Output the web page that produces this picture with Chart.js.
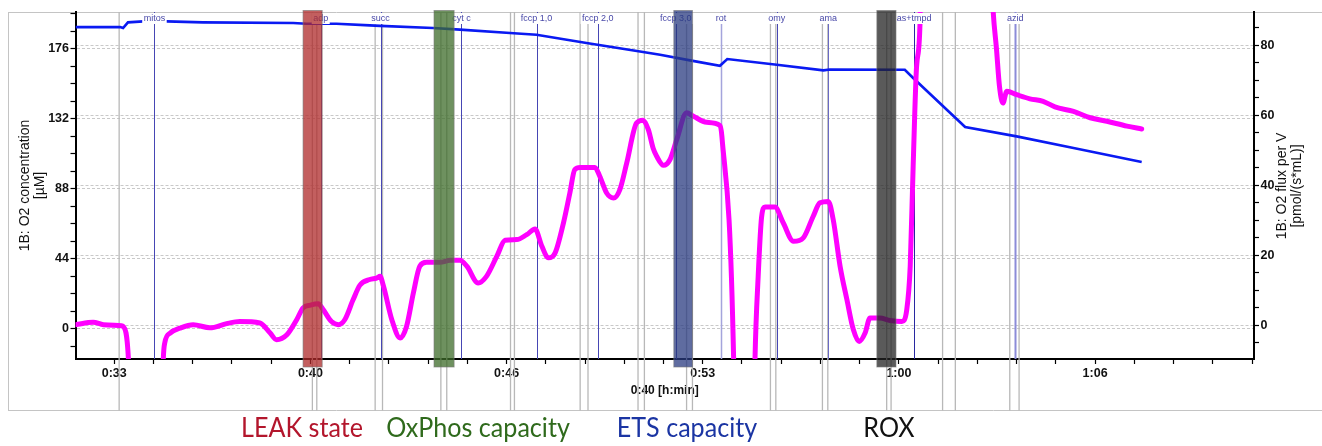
<!DOCTYPE html>
<html>
<head>
<meta charset="utf-8">
<script src="https://cdn.jsdelivr.net/npm/chart.js@4.4.1/dist/chart.umd.min.js"></script>
<style>
  html, body { margin: 0; padding: 0; background: #fff; }
  #wrap { position: relative; width: 1322px; height: 446px; overflow: hidden; }
  #chart { position: absolute; left: 0; top: 0; }
  .state { position: absolute; top: 413px; font-family: Lato, 'Noto Sans', sans-serif; font-size: 27px; line-height: 1; white-space: nowrap; transform: translateX(-50%) scaleX(0.93); }
</style>
</head>
<body>
<div id="wrap">
  <canvas id="chart" width="1322" height="446"></canvas>
</div>
<script>
/* O2k trace: O2 concentration (left) and O2 flux per V (right) */

// time axis, seconds
const xTickValue = [2000, 2400, 2800, 3200, 3600, 4000];
const xTickLabel = ['0:33', '0:40', '0:46', '0:53', '1:00', '1:06'];
const o2TickLabel = [0, 44, 88, 132, 176];
const fluxTickLabel = [0, 20, 40, 60, 80];

// O2 flux per V [pmol/(s*mL)]
const fluxTime = [1921, 1957, 1978, 2015, 2018, 2029, 2035, 2095, 2100, 2103, 2114, 2134, 2161, 2195, 2229, 2256, 2297, 2318, 2331, 2352,
  2372, 2385, 2400, 2416, 2426, 2443, 2457, 2470, 2487, 2501, 2521, 2535, 2542, 2549, 2566, 2583, 2596, 2610, 2623, 2637,
  2664, 2685, 2705, 2719, 2742, 2759, 2780, 2797, 2821, 2841, 2858, 2872, 2885, 2899, 2916, 2929, 2939, 2950, 2980, 2990,
  3004, 3018, 3031, 3045, 3065, 3078, 3089, 3099, 3106, 3120, 3133, 3147, 3167, 3181, 3208, 3235, 3239, 3263, 3266, 3303,
  3306.5, 3313, 3320, 3327, 3347, 3364, 3385, 3405, 3425, 3439, 3456, 3466, 3480, 3494, 3507, 3519, 3531, 3541, 3561, 3582,
  3606, 3616, 3623, 3629, 3636, 3643, 3646, 3782, 3792, 3799, 3805, 3812, 3820, 3840, 3867, 3894, 3918, 3956, 3990, 4024,
  4065, 4095];
const fluxValue = [0.2, 0.9, 0.2, -0.1, -0.3, -9.8, -40, -40, -9.8, -5, -2.2, -0.8, 0.2, -0.7, 0.5, 1.1, 0.7, -2.2, -4.1, -2.7,
  1.6, 5.0, 5.8, 6.2, 4.5, 1.1, 0.2, 1.6, 7.3, 11.5, 13.1, 13.5, 14.0, 11.2, 1.6, -3.6, -0.3, 9.3, 16.9, 18.0,
  18.0, 18.6, 18.6, 16.9, 12.1, 14.0, 19.7, 24.3, 24.5, 25.9, 27.5, 22.6, 19.3, 20.7, 29.3, 37.8, 44.5, 45.1, 45.1, 42.6,
  37.8, 36.4, 38.8, 46.4, 57.8, 58.6, 55.9, 50.5, 48.3, 45.7, 47.3, 53.1, 60.7, 59.7, 58.0, 57.1, 54, -9.8, -40, -40,
  -9.8, 14, 31, 33.8, 33.8, 29.3, 24.0, 25.0, 31.1, 35.0, 35.4, 30.2, 16.9, 7.3, -1.2, -4.6, -2.2, 2.1, 2.1, 1.4,
  1.1, 4.5, 16.9, 45.4, 74, 86.4, 120, 120, 90, 78.8, 68.3, 63.5, 66.9, 65.9, 64.7, 64.0, 62.4, 61.1, 59.3, 58.3,
  56.9, 56.1];

// O2 concentration [µM]
const o2Time = [1921, 2012, 2018, 2028, 2059, 2107, 2181, 2365, 2392, 2453, 2521, 2542, 2650, 2705, 2807, 2861,
  2963, 3072, 3113, 3174, 3235, 3250, 3351, 3446, 3459, 3612, 3629, 3735, 3840, 3956, 4095];
const o2Value = [189.6, 189.6, 189.0, 192.6, 193.2, 193.2, 192.6, 192.2, 191.7, 191.7, 190.7, 190.4, 189.0, 188.0, 185.9, 184.8,
  179.6, 174.3, 172.2, 168.7, 165.3, 169.5, 165.9, 162.4, 162.9, 162.8, 157.6, 126.8, 120.9, 113.6, 104.8];

// titration events
const eventTime = [2082, 2421, 2543, 2708, 2861, 2986, 3145, 3237, 3351, 3456, 3631, 3837];
const eventLabel = ['mitos', 'adp', 'succ', 'cyt c', 'fccp 1,0', 'fccp 2,0', 'fccp 3,0', 'rot', 'omy', 'ama', 'as+tmpd', 'azid'];
// grey marks
const markTime = [2010, 2404, 2413, 2532, 2547, 2666, 2678, 2808, 2816, 2950, 2966, 3068, 3081, 3167, 3179,
  3338, 3349, 3444, 3455, 3575, 3584, 3689, 3715, 3826, 3845];
// marked states
const bandStart = [2385, 2652, 3141, 3555];
const bandEnd = [2424, 2693, 3179, 3594];
const bandLabel = ['LEAK state', 'OxPhos capacity', 'ETS capacity', 'ROX'];

// styles
const bandFill = ['rgba(175,41,41,0.75)', 'rgba(61,108,41,0.75)', 'rgba(41,59,128,0.75)', 'rgba(35,35,35,0.75)'];
const bandText = ['#b3162c', '#2f6a1c', '#1b35a3', '#111'];
const bandTextX = [302, 478, 687, 889];
const eventColor = ['#4646b4', '#4646b4', '#4646b4', '#4646b4', '#4646b4', '#4646b4', '#3a3a9a', '#a4a4dc', '#4646b4', '#6a6ac4', '#2828a0', '#8c8cd8'];
const eventWidth = [1, 1, 1, 1, 1, 1, 1, 1.5, 1, 1, 1, 2];

const FONT = "'Liberation Sans', Arial, sans-serif";
const tickFont = { family: FONT, size: 12.5, weight: 'bold' };
const FRAME_BOTTOM = 410.5;

function ticksEvery(axis, start, step) {
    const out = [];
    for (let v = start; v <= axis.max; v += step) {
        if (v >= axis.min) out.push({ value: v });
    }
    axis.ticks = out;
}

const tracePlugin = {
    id: 'trace',
    beforeDraw(chart) {
        const ctx = chart.ctx;
        ctx.save();
        ctx.strokeStyle = '#c4c4c4';
        ctx.lineWidth = 1;
        ctx.beginPath();
        ctx.moveTo(8, 12.5); ctx.lineTo(1322, 12.5);
        ctx.moveTo(8.5, 12); ctx.lineTo(8.5, FRAME_BOTTOM);
        ctx.moveTo(8, FRAME_BOTTOM); ctx.lineTo(1322, FRAME_BOTTOM);
        ctx.stroke();
        ctx.restore();
    },
    beforeDatasetsDraw(chart) {
        const { ctx, chartArea, scales: { x } } = chart;
        ctx.save();
        ctx.strokeStyle = '#b8b8b8';
        ctx.lineWidth = 1.3;
        markTime.forEach(t => {
            const px = x.getPixelForValue(t);
            ctx.beginPath();
            ctx.moveTo(px, chartArea.top);
            ctx.lineTo(px, FRAME_BOTTOM);
            ctx.stroke();
        });
        eventTime.forEach((t, i) => {
            const px = Math.round(x.getPixelForValue(t)) + 0.5;
            ctx.strokeStyle = eventColor[i];
            ctx.lineWidth = eventWidth[i];
            ctx.beginPath();
            ctx.moveTo(px, chartArea.top);
            ctx.lineTo(px, chartArea.bottom);
            ctx.stroke();
        });
        ctx.restore();
    },
    afterDatasetsDraw(chart) {
        const { ctx, chartArea, scales: { x } } = chart;
        ctx.save();
        // event labels on white boxes
        ctx.font = '9px ' + FONT;
        ctx.textAlign = 'center';
        ctx.textBaseline = 'middle';
        eventTime.forEach((t, i) => {
            const px = x.getPixelForValue(t);
            const w = ctx.measureText(eventLabel[i]).width;
            ctx.fillStyle = '#fff';
            ctx.fillRect(px - w / 2 - 1.5, 13, w + 3, 11);
            ctx.fillStyle = '#4848a8';
            ctx.fillText(eventLabel[i], px, 18.5);
        });
        // marked sections
        bandStart.forEach((t, i) => {
            const x0 = x.getPixelForValue(t);
            const x1 = x.getPixelForValue(bandEnd[i]);
            const y0 = chartArea.top - 1.5;
            const y1 = chartArea.bottom + 8;
            ctx.fillStyle = bandFill[i];
            ctx.fillRect(x0, y0, x1 - x0, y1 - y0);
            ctx.strokeStyle = 'rgba(120,120,120,0.6)';
            ctx.lineWidth = 1;
            ctx.strokeRect(x0, y0, x1 - x0, y1 - y0);
        });
        ctx.restore();
    },
    afterDraw(chart) {
        const ctx = chart.ctx;
        ctx.save();
        ctx.fillStyle = '#111';
        ctx.font = '14px ' + FONT;
        ctx.textAlign = 'center';
        ctx.textBaseline = 'middle';
        [['1B: O2 flux per V', 1282.5], ['[pmol/(s*mL)]', 1297]].forEach(([txt, px]) => {
            ctx.save();
            ctx.translate(px, 186);
            ctx.rotate(-Math.PI / 2);
            ctx.fillText(txt, 0, 0);
            ctx.restore();
        });
        ctx.restore();
    }
};

new Chart(document.getElementById('chart'), {
    type: 'line',
    data: {
        datasets: [
            {
                label: '1B: O2 concentration',
                data: o2Time.map((t, i) => ({ x: t, y: o2Value[i] })),
                yAxisID: 'y',
                borderColor: '#0a1af2',
                borderWidth: 2.6,
                pointRadius: 0,
                tension: 0,
                order: 2
            },
            {
                label: '1B: O2 flux per V',
                data: fluxTime.map((t, i) => ({ x: t, y: fluxValue[i] })),
                yAxisID: 'y1',
                borderColor: '#ff00ff',
                borderWidth: 5,
                borderJoinStyle: 'round',
                borderCapStyle: 'round',
                pointRadius: 0,
                cubicInterpolationMode: 'monotone',
                order: 1
            }
        ]
    },
    options: {
        responsive: false,
        animation: false,
        devicePixelRatio: 1,
        layout: { padding: { left: 0, right: 0, top: 12, bottom: 48 } },
        plugins: { legend: { display: false }, tooltip: { enabled: false } },
        scales: {
            x: {
                type: 'linear',
                min: 1921,
                max: 4324,
                afterFit: s => { s.height = 39; },
                afterBuildTicks: axis => ticksEvery(axis, 2000, 80),
                ticks: {
                    autoSkip: false, maxRotation: 0, padding: 2, font: tickFont, color: '#111',
                    callback: v => { const i = xTickValue.indexOf(v); return i >= 0 ? xTickLabel[i] : ''; }
                },
                grid: { drawOnChartArea: false, drawTicks: true, tickLength: 5, tickColor: '#000', tickWidth: 1.2, color: '#000' },
                border: { color: '#000', width: 2 },
                title: { display: true, text: '0:40 [h:min]', font: { family: FONT, size: 12, weight: 'bold' }, color: '#111', padding: { top: 0, bottom: 0 } }
            },
            y: {
                position: 'left',
                min: -19.05,
                max: 199.1,
                afterFit: s => { s.width = 75.5; },
                afterBuildTicks: axis => ticksEvery(axis, -11, 11),
                ticks: {
                    autoSkip: false, padding: 1.5, font: tickFont, color: '#111',
                    callback: v => o2TickLabel.includes(v) ? String(v) : ''
                },
                grid: {
                    color: c => (c.tick && o2TickLabel.includes(c.tick.value)) ? '#c9c9c9' : 'rgba(0,0,0,0)',
                    tickColor: '#000', tickLength: 5, lineWidth: 1, tickWidth: 1.2
                },
                border: { color: '#000', width: 2, dash: [3, 2] },
                title: {
                    display: true, text: ['1B: O2 concentration', '[µM]'],
                    font: { family: FONT, size: 14, lineHeight: 1.1 }, color: '#111', padding: { top: 17.3, bottom: 0 }
                }
            },
            y1: {
                position: 'right',
                min: -9.6,
                max: 89.5,
                afterFit: s => { s.width = 68; },
                afterBuildTicks: axis => ticksEvery(axis, -5, 5),
                ticks: {
                    autoSkip: false, padding: 1.5, font: tickFont, color: '#111',
                    callback: v => fluxTickLabel.includes(v) ? String(v) : ''
                },
                grid: {
                    color: c => (c.tick && fluxTickLabel.includes(c.tick.value)) ? '#c9c9c9' : 'rgba(0,0,0,0)',
                    tickColor: '#000', tickLength: 5, lineWidth: 1, tickWidth: 1.2
                },
                border: { color: '#000', width: 2, dash: [3, 2] }
            }
        }
    },
    plugins: [tracePlugin]
});

// state names under the trace
const wrap = document.getElementById('wrap');
bandLabel.forEach((txt, i) => {
    const d = document.createElement('div');
    d.className = 'state';
    d.textContent = txt;
    d.style.left = bandTextX[i] + 'px';
    d.style.color = bandText[i];
    wrap.appendChild(d);
});
</script>
</body>
</html>
